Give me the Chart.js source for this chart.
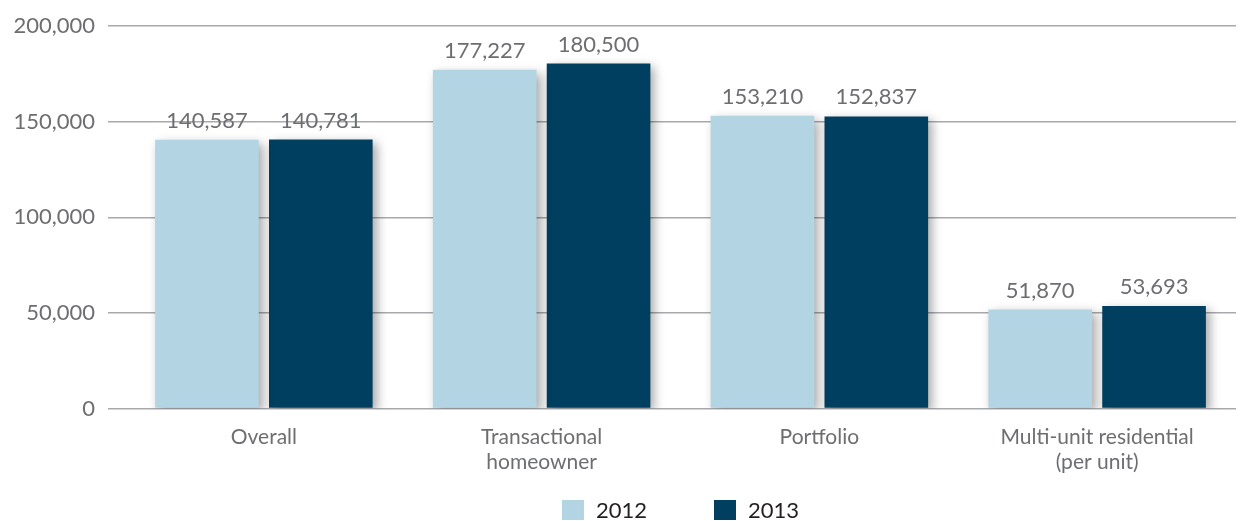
<!DOCTYPE html>
<html>
<head>
<meta charset="utf-8">
<script src="https://cdn.jsdelivr.net/npm/chart.js@4/dist/chart.umd.min.js"></script>
<style>
  html, body { margin: 0; padding: 0; background: #fff; }
  #wrap { width: 1241px; height: 521px; position: relative; }
</style>
</head>
<body>
<div id="wrap"><canvas id="costChart"></canvas></div>
<script>
// chart data
const categories = ['Overall', ['Transactional', 'homeowner'], 'Portfolio', ['Multi-unit residential', '(per unit)']];
const seriesNames = ['2012', '2013'];
const values2012 = [140587, 177227, 153210, 51870];
const values2013 = [140781, 180500, 152837, 53693];
const yTicks = [0, 50000, 100000, 150000, 200000];

const GRAY = '#6d6e71';
const FONT = 'Lato, "Open Sans", sans-serif';

const fmt = v => v.toLocaleString('en-US');

// drop shadow behind the bars
const barShadow = {
    id: 'barShadow',
    beforeDatasetsDraw(chart) {
        const ctx = chart.ctx;
        ctx.save();
        ctx.shadowColor = 'rgba(0,0,0,0.35)';
        ctx.shadowBlur = 10;
        ctx.shadowOffsetX = 4;
        ctx.shadowOffsetY = 4;
    },
    afterDatasetsDraw(chart) {
        chart.ctx.restore();
    }
};

// value labels above each bar
const valueLabels = {
    id: 'valueLabels',
    afterDatasetsDraw(chart) {
        const ctx = chart.ctx;
        ctx.save();
        ctx.font = '22px ' + FONT;
        ctx.fillStyle = GRAY;
        ctx.textAlign = 'center';
        ctx.textBaseline = 'bottom';
        chart.data.datasets.forEach((ds, i) => {
            chart.getDatasetMeta(i).data.forEach((bar, j) => {
                ctx.fillText(fmt(ds.data[j]), bar.x, bar.y - 8);
            });
        });
        ctx.restore();
    }
};

// legend centred under the plot area, wide gap between the items
const plotLegend = {
    id: 'plotLegend',
    afterDraw(chart) {
        const ctx = chart.ctx;
        const area = chart.chartArea;
        const box = 22, boxH = 20, gap = 12, spacing = 67;
        ctx.save();
        ctx.font = '22px ' + FONT;
        const items = chart.data.datasets.map(ds => ({
            text: ds.label,
            color: ds.backgroundColor,
            w: box + gap + ctx.measureText(ds.label).width
        }));
        const total = items.reduce((s, it) => s + it.w, 0) + spacing * (items.length - 1);
        let x = (area.left + area.right) / 2 - total / 2;
        const top = chart.height - boxH - 1;
        items.forEach(it => {
            ctx.fillStyle = it.color;
            ctx.fillRect(x, top, box, boxH);
            ctx.fillStyle = '#231f20';
            ctx.textAlign = 'left';
            ctx.textBaseline = 'middle';
            ctx.fillText(it.text, x + box + gap, top + boxH / 2 + 1);
            x += it.w + spacing;
        });
        ctx.restore();
    }
};

new Chart(document.getElementById('costChart'), {
    type: 'bar',
    data: {
        labels: categories,
        datasets: [{
            label: seriesNames[0],
            data: values2012,
            backgroundColor: 'rgb(179, 213, 227)',
            categoryPercentage: 0.82,
            barPercentage: 0.91
        }, {
            label: seriesNames[1],
            data: values2013,
            backgroundColor: 'rgb(0, 63, 96)',
            categoryPercentage: 0.82,
            barPercentage: 0.91
        }]
    },
    options: {
        responsive: true,
        maintainAspectRatio: false,
        animation: false,
        layout: { padding: { top: 12, right: 5, left: 0, bottom: 38 } },
        plugins: {
            legend: { display: false },
            tooltip: { enabled: false }
        },
        scales: {
            x: {
                grid: { display: false },
                border: { display: false },
                ticks: {
                    color: GRAY,
                    padding: 8,
                    font: { family: FONT, size: 21 }
                }
            },
            y: {
                min: 0,
                max: 200000,
                afterBuildTicks(axis) {
                    axis.ticks = yTicks.map(v => ({ value: v }));
                },
                afterFit(axis) { axis.width = 125; },
                border: { display: false },
                grid: {
                    color: '#a7a9ac',
                    lineWidth: 1.5,
                    tickLength: 17
                },
                ticks: {
                    color: GRAY,
                    padding: 13,
                    font: { family: FONT, size: 22 },
                    callback: v => fmt(v)
                }
            }
        }
    },
    plugins: [barShadow, valueLabels, plotLegend]
});
</script>
</body>
</html>
